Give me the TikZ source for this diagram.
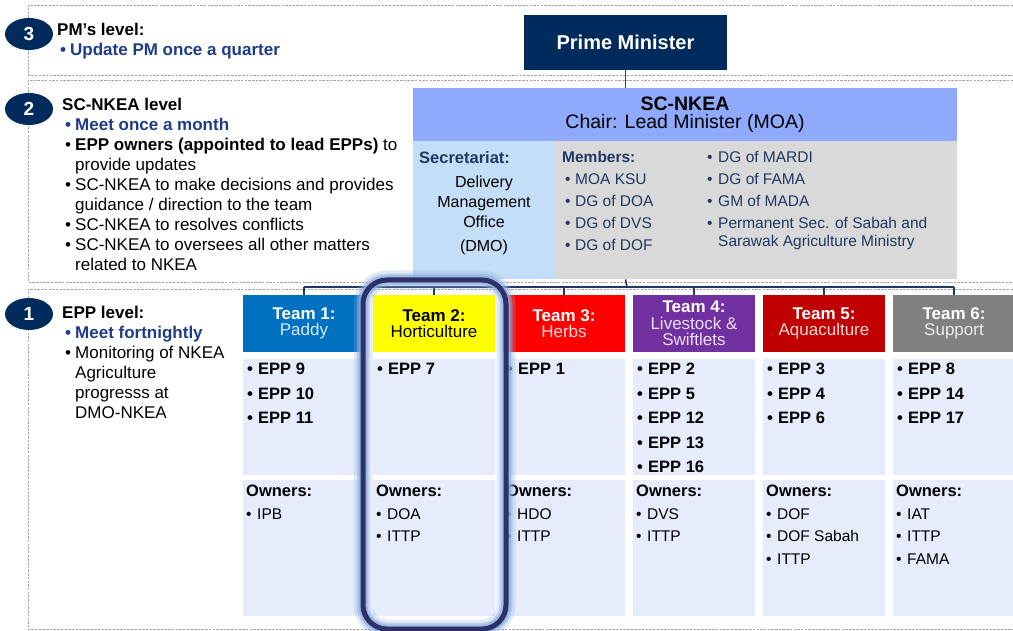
\documentclass[tikz,border=0pt]{standalone}
\usepackage{fontspec}
\setmainfont{Liberation Sans}
\usepackage{tikz}
\usetikzlibrary{positioning, shapes.geometric}
\usepackage{xcolor}

\definecolor{navy}{HTML}{002B5C}
\definecolor{txtblue}{HTML}{1F3C88}
\definecolor{memblue}{HTML}{1F3864}
\definecolor{hdrblue}{HTML}{8FAAFC}
\definecolor{secblue}{HTML}{C5DEF7}
\definecolor{memgrey}{HTML}{D9D9D9}
\definecolor{cellblue}{HTML}{E6ECFC}
\definecolor{teamA}{HTML}{0070C0}
\definecolor{teamB}{HTML}{FFFF00}
\definecolor{teamC}{HTML}{FF0000}
\definecolor{teamD}{HTML}{7030A0}
\definecolor{teamE}{HTML}{C00000}
\definecolor{teamF}{HTML}{808080}
\definecolor{ringblue}{HTML}{2E3168}
\definecolor{ringglow}{HTML}{8FB0E0}

\newcommand{\bul}{\makebox[11pt][l]{\textbullet}}
\newcommand{\lbul}{\hspace*{3pt}\makebox[10pt][l]{\textbullet}}
\newcommand{\lind}{\hspace*{13pt}}
\newcommand{\ownhd}{{\fontsize{16.5}{22.5}\selectfont\bfseries Owners:}}

\begin{document}
\begin{tikzpicture}[x=1pt, y=-1pt,
  lvltext/.style={anchor=north west, inner sep=0pt, align=left, font=\fontsize{17}{20}\selectfont},
  numoval/.style={ellipse, fill=navy, minimum width=48pt, minimum height=32pt, inner sep=0pt, text=white, font=\fontsize{19}{19}\selectfont\bfseries},
  dashbox/.style={draw=black!35, dash pattern=on 2.5pt off 1.2pt, line width=0.9pt},
  conn/.style={draw=memblue, line width=1.6pt},
  teambox/.style={minimum width=122pt, minimum height=57pt, inner sep=0pt, align=center, font=\fontsize{17}{16.5}\selectfont},
  cell/.style={fill=cellblue, anchor=north west, minimum width=122pt, inner sep=0pt},
  epptext/.style={anchor=north west, inner sep=0pt, align=left, font=\fontsize{16.5}{24.5}\selectfont\bfseries},
  owntext/.style={anchor=north west, inner sep=0pt, align=left, font=\fontsize{15.5}{22.5}\selectfont},
  memtext/.style={anchor=north west, inner sep=0pt, align=left, text=memblue, font=\fontsize{15.5}{22}\selectfont},
  ring/.style={rounded corners=24pt}
]
  \clip (0,0) rectangle (1013,631);

  % level frames
  \draw[dashbox] (1013,5) -| (28,75) -- (1013,75);
  \draw[dashbox] (1013,80) -| (28,282) -- (1013,282);
  \draw[dashbox] (1013,289) -| (28,629) -- (1013,629);

  % level labels
  \node[numoval] (n3) at (29,34) {3};
  \node[numoval] (n2) at (29,109) {2};
  \node[numoval] (n1) at (29,314) {1};

  \node[lvltext] (l3) at (57,23) {\textbf{PM’s level:}\\
    \textcolor{txtblue}{\bfseries\lbul Update PM once a quarter}};
  \node[lvltext] (l2) at (62,98) {\textbf{SC-NKEA level}\\
    \textcolor{txtblue}{\bfseries\lbul Meet once a month}\\
    \lbul\textbf{EPP owners (appointed to lead EPPs)} to\\
    \lind provide updates\\
    \lbul SC-NKEA to make decisions and provides\\
    \lind guidance / direction to the team\\
    \lbul SC-NKEA to resolves conflicts\\
    \lbul SC-NKEA to oversees all other matters\\
    \lind related to NKEA};
  \node[lvltext] (l1) at (62,306) {\textbf{EPP level:}\\
    \textcolor{txtblue}{\bfseries\lbul Meet fortnightly}\\
    \lbul Monitoring of NKEA\\
    \lind Agriculture\\
    \lind progresss at\\
    \lind DMO-NKEA};

  % PM and steering committee
  \node[fill=navy, text=white, minimum width=203pt, minimum height=55pt, font=\fontsize{20}{20}\selectfont\bfseries] (pm) at (625.5,42.5) {Prime Minister};
  \node[fill=hdrblue, minimum width=544pt, minimum height=53pt, inner sep=0pt, align=center, font=\fontsize{19.5}{18}\selectfont] (sc) at (685,114.5) {\textbf{SC-NKEA}\\Chair: Lead Minister (MOA)};
  \node[fill=secblue, anchor=north west, minimum width=143pt, minimum height=138pt, inner sep=0pt] (sec) at (413,141) {};
  \node[fill=memgrey, anchor=north west, minimum width=401pt, minimum height=138pt, inner sep=0pt] (mem) at (556,141) {};

  \node[anchor=north west, inner sep=0pt, text=memblue, font=\fontsize{16.5}{20}\selectfont\bfseries] (sect) at (419,151) {Secretariat:};
  \node[anchor=north, inner sep=0pt, align=center, font=\fontsize{16}{20}\selectfont] (dmo) at (484,176) {Delivery\\Management\\Office\\[4pt](DMO)};
  \node[memtext] (mema) at (562,151) {\textbf{Members:}\\\hspace*{3pt}\makebox[10pt][l]{\textbullet}MOA KSU\\\hspace*{3pt}\makebox[10pt][l]{\textbullet}DG of DOA\\\hspace*{3pt}\makebox[10pt][l]{\textbullet}DG of DVS\\\hspace*{3pt}\makebox[10pt][l]{\textbullet}DG of DOF};
  \node[memtext] (memb) at (707,151) {\makebox[11pt][l]{\textbullet}DG of MARDI\\\makebox[11pt][l]{\textbullet}DG of FAMA\\\makebox[11pt][l]{\textbullet}GM of MADA\\\makebox[11pt][l]{\textbullet}Permanent Sec. of Sabah and\\[-4pt]\hspace*{11pt}Sarawak Agriculture Ministry};

  % teams
  \foreach \i/\col/\fg/\sub in {1/teamA/white!85!teamA/Paddy, 2/teamB/black/Horticulture, 3/teamC/white!85!teamC/Herbs,
      4/teamD/white!85!teamD/{Livestock \&\\Swiftlets}, 5/teamE/white!85!teamE/Aquaculture, 6/teamF/white!85!teamF/Support} {
    \node[teambox, fill=\col, text=\fg] (t\i) at ({304+130*(\i-1)},323.5) {\textcolor{\ifnum\i=2 black\else white\fi}{\bfseries Team \i:}\\\sub};
    \node[cell, minimum height=116pt] (e\i) at ({243+130*(\i-1)},359) {};
    \node[cell, minimum height=136pt] (o\i) at ({243+130*(\i-1)},480) {};
  }

  \coordinate (bar) at (627,287);
  \draw[draw=black!75, line width=1.2pt] (pm.south) -- (pm.south |- sc.north);
  \draw[conn] (pm.south |- mem.south) -- (bar);
  \draw[conn] (t1.north |- bar) -- (t6.north |- bar);
  \foreach \i in {1,...,6} \draw[conn] (t\i.north |- bar) -- (t\i.north);

  % EPPs
  \node[epptext] (p1) at (247,363) {\bul EPP 9\\\bul EPP 10\\\bul EPP 11};
  \node[epptext] (p2) at (377,363) {\bul EPP 7};
  \node[epptext] (p3) at (507,363) {\bul EPP 1};
  \node[epptext] (p4) at (637,363) {\bul EPP 2\\\bul EPP 5\\\bul EPP 12\\\bul EPP 13\\\bul EPP 16};
  \node[epptext] (p5) at (767,363) {\bul EPP 3\\\bul EPP 4\\\bul EPP 6};
  \node[epptext] (p6) at (897,363) {\bul EPP 8\\\bul EPP 14\\\bul EPP 17};

  % owners
  \node[owntext] (w1) at (246,485) {\ownhd\\\bul IPB};
  \node[owntext] (w2) at (376,485) {\ownhd\\\bul DOA\\\bul ITTP};
  \node[owntext] (w3) at (506,485) {\ownhd\\\bul HDO\\\bul ITTP};
  \node[owntext] (w4) at (636,485) {\ownhd\\\bul DVS\\\bul ITTP};
  \node[owntext] (w5) at (766,485) {\ownhd\\\bul DOF\\\bul DOF Sabah\\\bul ITTP};
  \node[owntext] (w6) at (896,485) {\ownhd\\\bul IAT\\\bul ITTP\\\bul FAMA};

  % highlight on team 2
  \draw[ring, draw=ringglow, line width=19pt, opacity=0.25] (363,280) rectangle (506,629);
  \draw[ring, draw=ringglow, line width=13pt, opacity=0.45] (363,280) rectangle (506,629);
  \draw[ring, draw=ringglow, line width=9pt, opacity=0.7] (363,280) rectangle (506,629);
  \draw[ring, draw=ringblue, line width=5pt] (363,280) rectangle (506,629);
\end{tikzpicture}
\end{document}
